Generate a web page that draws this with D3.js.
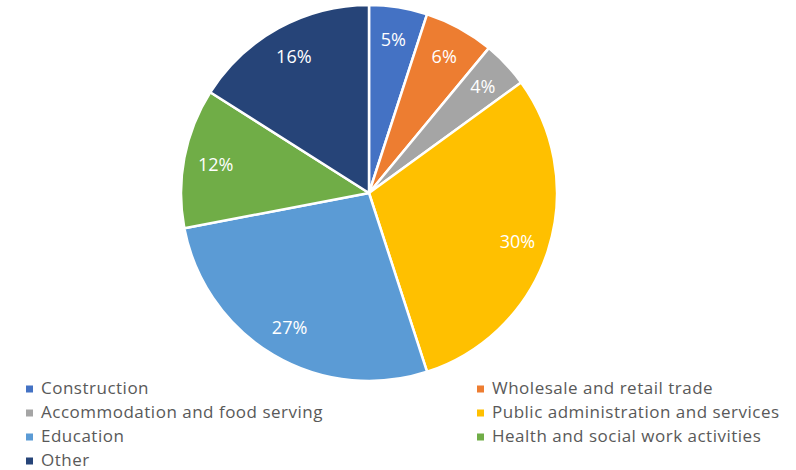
<!DOCTYPE html>
<html>
<head>
<meta charset="utf-8">
<script src="https://cdn.jsdelivr.net/npm/d3@7"></script>
<style>
  html, body { margin: 0; padding: 0; background: #ffffff; }
  svg { display: block; font-family: "Open Sans", "Noto Sans", sans-serif; }
</style>
</head>
<body>
<svg id="chart" width="796" height="470"></svg>
<script>
// Employment share by sector
const categories = [
  "Construction",
  "Wholesale and retail trade",
  "Accommodation and food serving",
  "Public administration and services",
  "Education",
  "Health and social work activities",
  "Other"
];
const values = [5, 6, 4, 30, 27, 12, 16];
const colors = ["#4472C4", "#ED7D31", "#A5A5A5", "#FFC000", "#5B9BD5", "#70AD47", "#264478"];

const svg = d3.select("#chart");
const cx = 369, cy = 193, radius = 188;

const data = categories.map((c, i) => ({ name: c, value: values[i], color: colors[i] }));

const pie = d3.pie().value(d => d.value).sort(null);
const arc = d3.arc().innerRadius(0).outerRadius(radius);
const labelArc = d3.arc().innerRadius(radius * 0.83).outerRadius(radius * 0.83);

const g = svg.append("g").attr("transform", `translate(${cx},${cy})`);
const arcs = pie(data);

g.selectAll("path.slice")
  .data(arcs)
  .join("path")
  .attr("class", "slice")
  .attr("d", arc)
  .attr("fill", d => d.data.color)
  .attr("stroke", "#ffffff")
  .attr("stroke-width", 2.5)
  .attr("stroke-linejoin", "round");

g.selectAll("text.pct")
  .data(arcs)
  .join("text")
  .attr("class", "pct")
  .attr("transform", d => `translate(${labelArc.centroid(d)})`)
  .attr("text-anchor", "middle")
  .attr("dominant-baseline", "central")
  .attr("fill", "#ffffff")
  .attr("font-size", 18)
  .text(d => d.data.value + "%");

// Legend in two columns
const colX = [26, 477];
const rowY = [389, 413, 437, 461];
const legend = svg.append("g");
const items = legend.selectAll("g.item")
  .data(data)
  .join("g")
  .attr("class", "item")
  .attr("transform", (d, i) => `translate(${colX[i % 2]},${rowY[Math.floor(i / 2)]})`);

items.append("rect")
  .attr("x", 0).attr("y", -3.5)
  .attr("width", 7).attr("height", 7)
  .attr("fill", d => d.color);

items.append("text")
  .attr("x", 15)
  .attr("y", 5)
  .attr("fill", "#595959")
  .attr("font-size", 17)
  .attr("letter-spacing", 0.5)
  .text(d => d.name);
</script>
</body>
</html>
